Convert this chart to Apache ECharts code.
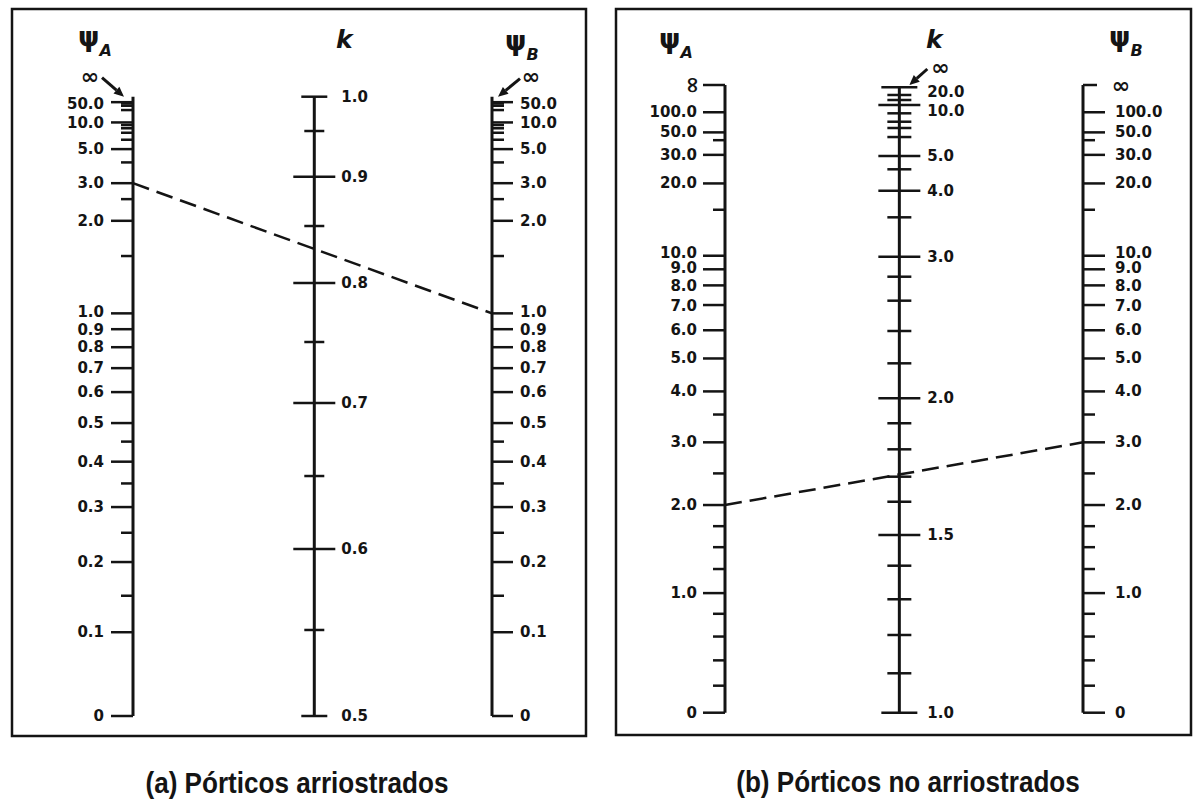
<!DOCTYPE html>
<html><head><meta charset="utf-8">
<script src="https://cdn.jsdelivr.net/npm/echarts@6/dist/echarts.min.js"></script>
<style>html,body{margin:0;padding:0;background:#fff}#c{width:1200px;height:803px}</style>
</head><body><div id="c"></div>
<script>
// ================= DATA =================
// (a) Braced frames - k scale tick values, labels and scale calibration (fraction of scale length)
const kTicksA  = [1.0, 0.95, 0.9, 0.85, 0.8, 0.75, 0.7, 0.65, 0.6, 0.55, 0.5];
const kLabelsA = ['1.0','','0.9','','0.8','','0.7','','0.6','','0.5'];
const kScaleA  = [1, 0.9446, 0.8708, 0.7912, 0.6992, 0.6039, 0.5054, 0.3875, 0.2697, 0.1389, 0];
// (a) psi scale ticks
const psiTicksA  = [Infinity, 50, 40, 30, 20, 10, 9, 8, 7, 6, 5, 4, 3, 2.5, 2, 1.5, 1, 0.9, 0.8, 0.7, 0.6, 0.5, 0.45, 0.4, 0.35, 0.3, 0.25, 0.2, 0.15, 0.1, 0];
const psiLabelsA = ['∞','50.0','','','','10.0','','','','','5.0','','3.0','','2.0','','1.0','0.9','0.8','0.7','0.6','0.5','','0.4','','0.3','','0.2','','0.1','0'];
const exampleA = [3.0, 1.0];   // psiA, psiB of the dashed example line

// (b) Unbraced frames - k scale
const kTicksB  = [Infinity, 20, 15, 12, 10, 9, 8, 7, 6, 5, 4.5, 4, 3.5, 3, 2.8, 2.6, 2.4, 2.2, 2, 1.9, 1.8, 1.7, 1.6, 1.5, 1.4, 1.3, 1.2, 1.1, 1.0];
const kLabelsB = ['∞','20.0','','','10.0','','','','','5.0','','4.0','','3.0','','','','','2.0','','','','','1.5','','','','','1.0'];
const kScaleB  = [1, 0.9963, 0.9841, 0.9761, 0.9681, 0.9549, 0.9415, 0.9315, 0.9171, 0.8869, 0.8657, 0.8316, 0.7892, 0.7265, 0.6946, 0.6564, 0.6081, 0.5566, 0.5009, 0.4611, 0.4196, 0.3760, 0.3361, 0.2831, 0.2342, 0.1807, 0.1238, 0.0628, 0];
// (b) psi scale ticks
const psiTicksB  = [Infinity, 100, 50, 40, 30, 20, 15, 10, 9, 8, 7, 6, 5, 4, 3.5, 3, 2.5, 2, 1.75, 1.5, 1.25, 1, 0.8, 0.6, 0.4, 0.2, 0];
const psiLabelsB = ['∞','100.0','50.0','','30.0','20.0','','10.0','9.0','8.0','7.0','6.0','5.0','4.0','','3.0','','2.0','','','','1.0','','','','','0'];
const exampleB = [2.0, 3.0];

const captions = ['(a) Pórticos arriostrados', '(b) Pórticos no arriostrados'];

// ================= SCALES =================
function buildScale(ticks, fracs, tf) {
  const pairs = ticks.map((v, i) => [tf(v), fracs[i]]).sort((a, b) => a[0] - b[0]);
  return v => {
    const t = tf(v);
    if (t <= pairs[0][0]) return pairs[0][1];
    for (let j = 1; j < pairs.length; j++) {
      if (t <= pairs[j][0]) {
        const [t0, f0] = pairs[j - 1], [t1, f1] = pairs[j];
        return f0 + (f1 - f0) * (t - t0) / (t1 - t0);
      }
    }
    return pairs[pairs.length - 1][1];
  };
}
const kPosA = buildScale(kTicksA, kScaleA, k => k);
const kPosB = buildScale(kTicksB, kScaleB, k => (isFinite(k) ? 1 / k : 0));

// symmetric nomograph relations (psiA = psiB = psi)
function kBraced(psi) {          // tan(theta/2) + psi*theta/2 = 0
  if (psi <= 0) return 0.5;
  if (!isFinite(psi)) return 1;
  let lo = 0.5 + 1e-9, hi = 1 - 1e-9;
  for (let n = 0; n < 80; n++) {
    const m = (lo + hi) / 2, th = Math.PI / m;
    const h = Math.tan(th / 2) + psi * th / 2;
    if (h > 0) lo = m; else hi = m;
  }
  return (lo + hi) / 2;
}
function kUnbraced(psi) {        // tan(theta/2) = 6/(psi*theta)
  if (psi <= 0) return 1;
  if (!isFinite(psi)) return Infinity;
  let lo = 1e-9, hi = 1 - 1e-9;
  for (let n = 0; n < 80; n++) {
    const u = (lo + hi) / 2, th = Math.PI * u;
    const h = Math.tan(th / 2) - 6 / (psi * th);
    if (h < 0) lo = u; else hi = u;
  }
  return 1 / ((lo + hi) / 2);
}
const psiPosA = v => kPosA(kBraced(v));
const psiPosB = v => kPosB(kUnbraced(v));

// ================= LAYOUT / STYLE =================
const INK = '#141414';
const FONT = 'bold 15px "DejaVu Sans", sans-serif';
const INF_FONT = 'bold 22px "DejaVu Sans", sans-serif';
const dyBpsi = { '10.0': -3, '9.0': -1, '8.0': 1, '7.0': 1 };
const panels = [
  { gridIdx: 2, cols: [0, 0.505, 1], example: exampleA,
    scales: [
      { ticks: psiTicksA, labels: psiLabelsA, pos: psiPosA, axisMax: Infinity,
        st: { side: 'left', major: 22, minor: 12, label: -29, labelDy: { '50.0': 2, '10.0': 1, '1.0': -1, '0.9': 1 },
              inf: 'arrow', arrow: { lbl: [-43, -20], from: [-31, -19], to: [-9, 0] } } },
      { ticks: kTicksA, labels: kLabelsA, pos: kPosA, axisMax: 1.0,
        st: { side: 'both', major: 21, minor: 10, end: 13, ends: ['1.0', '0.5'], label: 27 } },
      { ticks: psiTicksA, labels: psiLabelsA, pos: psiPosA, axisMax: Infinity,
        st: { side: 'right', major: 21, minor: 12, label: 28, labelDy: { '50.0': 2, '10.0': 1, '1.0': -1, '0.9': 1 },
              inf: 'arrow', arrow: { lbl: [39, -20], from: [28, -18], to: [6, 0] } } }
    ] },
  { gridIdx: 3, cols: [0, 0.487, 1], example: exampleB,
    scales: [
      { ticks: psiTicksB, labels: psiLabelsB, pos: psiPosB, axisMax: Infinity,
        st: { side: 'left', major: 22, minor: 12, label: -28, inf: 'capRot', labelDy: dyBpsi } },
      { ticks: kTicksB, labels: kLabelsB, pos: kPosB, axisMax: 20,
        st: { side: 'both', major: 21, minor: 12, end: 18, ends: ['20.0', '1.0'], label: 28,
              labelDy: { '20.0': 5, '10.0': 6 },
              inf: 'arrow', arrow: { lbl: [41, -18], from: [28, -16], to: [10, 0] } } },
      { ticks: psiTicksB, labels: psiLabelsB, pos: psiPosB, axisMax: Infinity,
        st: { side: 'right', major: 22, minor: 12, label: 32, inf: 'cap', capLen: 14, labelDy: dyBpsi } }
    ] }
];

function arrowEls(x, y, a) {
  const x1 = x + a.from[0], y1 = y + a.from[1], x2 = x + a.to[0], y2 = y + a.to[1];
  const dx = x2 - x1, dy = y2 - y1, L = Math.hypot(dx, dy), ux = dx / L, uy = dy / L;
  const bx = x2 - 10 * ux, by = y2 - 10 * uy, nx = -uy, ny = ux;
  return [
    { type: 'line', shape: { x1, y1, x2: bx, y2: by }, style: { stroke: INK, lineWidth: 3 } },
    { type: 'polygon', shape: { points: [[x2, y2], [bx + 4.5 * nx, by + 4.5 * ny], [bx - 4.5 * nx, by - 4.5 * ny]] }, style: { fill: INK } },
    { type: 'text', x: x + a.lbl[0], y: y + a.lbl[1], style: { text: '∞', font: INF_FONT, fill: INK, align: 'center', verticalAlign: 'middle' } }
  ];
}

function tickRenderer(sc) {
  const st = sc.st;
  return function (params, api) {
    const i = api.value(2);
    const p = api.coord([api.value(0), api.value(1)]);
    const x = p[0], y = p[1];
    const lbl = sc.labels[i];
    const ls = { stroke: INK, lineWidth: 2.5 };
    const children = [];
    if (!isFinite(sc.ticks[i])) {
      if (st.inf === 'arrow') children.push(...arrowEls(x, y, st.arrow));
      else if (st.inf === 'cap') {
        children.push({ type: 'line', shape: { x1: x, y1: y, x2: x + st.capLen, y2: y }, style: ls });
        children.push({ type: 'text', x: x + st.label + 6, y: y, style: { text: lbl, font: INF_FONT, fill: INK, align: 'center', verticalAlign: 'middle' } });
      } else if (st.inf === 'capRot') {
        children.push({ type: 'line', shape: { x1: x - st.major, y1: y, x2: x, y2: y }, style: ls });
        children.push({ type: 'text', x: x + st.label - 6, y: y, rotation: Math.PI / 2,
          style: { text: lbl, font: INF_FONT, fill: INK, align: 'center', verticalAlign: 'middle' } });
      }
      return { type: 'group', children };
    }
    let len = lbl ? st.major : st.minor;
    if (st.ends && st.ends.indexOf(lbl) >= 0) len = st.end;
    let x1 = x - len, x2 = x + len;
    if (st.side === 'left') x2 = x;
    if (st.side === 'right') x1 = x;
    children.push({ type: 'line', shape: { x1, y1: y, x2, y2: y }, style: ls });
    if (lbl) {
      const dy = (st.labelDy && st.labelDy[lbl]) || 0;
      children.push({ type: 'text', x: x + st.label, y: y + dy,
        style: { text: lbl, font: FONT, lineHeight: 12, fill: INK, align: st.label < 0 ? 'right' : 'left', verticalAlign: 'middle' } });
    }
    return { type: 'group', children };
  };
}

const series = [];
panels.forEach(pn => {
  pn.scales.forEach((sc, c) => {
    const xc = pn.cols[c];
    const finite = sc.ticks.filter(isFinite);
    const vmin = Math.min(...finite);
    series.push({
      type: 'line', xAxisIndex: pn.gridIdx, yAxisIndex: pn.gridIdx, silent: true, clip: false,
      symbol: 'none', animation: false,
      lineStyle: { color: INK, width: 3 },
      data: [[xc, sc.pos(vmin)], [xc, sc.pos(sc.axisMax)]]
    });
    series.push({
      type: 'custom', xAxisIndex: pn.gridIdx, yAxisIndex: pn.gridIdx, silent: true, clip: false,
      animation: false,
      renderItem: tickRenderer(sc),
      data: sc.ticks.map((v, i) => [xc, sc.pos(v), i])
    });
  });
  series.push({
    type: 'line', xAxisIndex: pn.gridIdx, yAxisIndex: pn.gridIdx, silent: true, clip: false,
    symbol: 'none', animation: false,
    lineStyle: { color: INK, width: 2.5, type: [17, 8] },
    data: [[pn.cols[0], pn.scales[0].pos(pn.example[0])], [pn.cols[2], pn.scales[2].pos(pn.example[1])]]
  });
});

const frame = { show: true, borderColor: INK, borderWidth: 2.5, backgroundColor: 'transparent' };
const hidV = g => ({ type: 'value', gridIndex: g, show: false, min: 0, max: 1 });

const RICH = {
  p: { fontFamily: 'DejaVu Sans', fontSize: 27, fontWeight: 'bold', color: INK, lineHeight: 28, verticalAlign: 'top' },
  s: { fontFamily: 'DejaVu Sans', fontSize: 16, fontStyle: 'italic', fontWeight: 'bold', color: INK, lineHeight: 16, padding: [19, 0, 0, 0], verticalAlign: 'top' }
};
const psiHead = (sub, l, tp) => ({ text: '{p|ψ}{s|' + sub + '}', left: l, top: tp, textAlign: 'left', textStyle: { rich: RICH } });
const kHead = (l, tp) => ({ text: 'k', left: l, top: tp, textAlign: 'left',
  textStyle: { fontFamily: 'DejaVu Sans', fontSize: 25, fontStyle: 'italic', fontWeight: 'bold', color: INK } });

const option = {
  backgroundColor: '#fff',
  animation: false,
  grid: [
    Object.assign({ left: 12, top: 9, width: 574, height: 727 }, frame),
    Object.assign({ left: 616, top: 9, width: 575, height: 726 }, frame),
    { left: 133, top: 96.7, width: 359, height: 619.3 },
    { left: 725, top: 85, width: 358, height: 627.7 }
  ],
  xAxis: [hidV(0), hidV(1), hidV(2), hidV(3)],
  yAxis: [hidV(0), hidV(1), hidV(2), hidV(3)],
  title: [
    psiHead('A', 73, 18), kHead(331, 22), psiHead('B', 500, 22),
    psiHead('A', 654, 20), kHead(921, 22), psiHead('B', 1104, 18)
  ],
  graphic: [
    { type: 'text', x: 297, y: 783, scaleX: 0.9, silent: true,
      style: { text: captions[0], font: 'bold 29px "Liberation Sans", Arial, sans-serif', fill: INK, align: 'center', verticalAlign: 'middle' } },
    { type: 'text', x: 908, y: 782, scaleX: 0.9, silent: true,
      style: { text: captions[1], font: 'bold 29px "Liberation Sans", Arial, sans-serif', fill: INK, align: 'center', verticalAlign: 'middle' } }
  ],
  series
};

const chart = echarts.init(document.getElementById('c'), null, { renderer: 'svg' });
chart.setOption(option);
</script>
</body></html>
